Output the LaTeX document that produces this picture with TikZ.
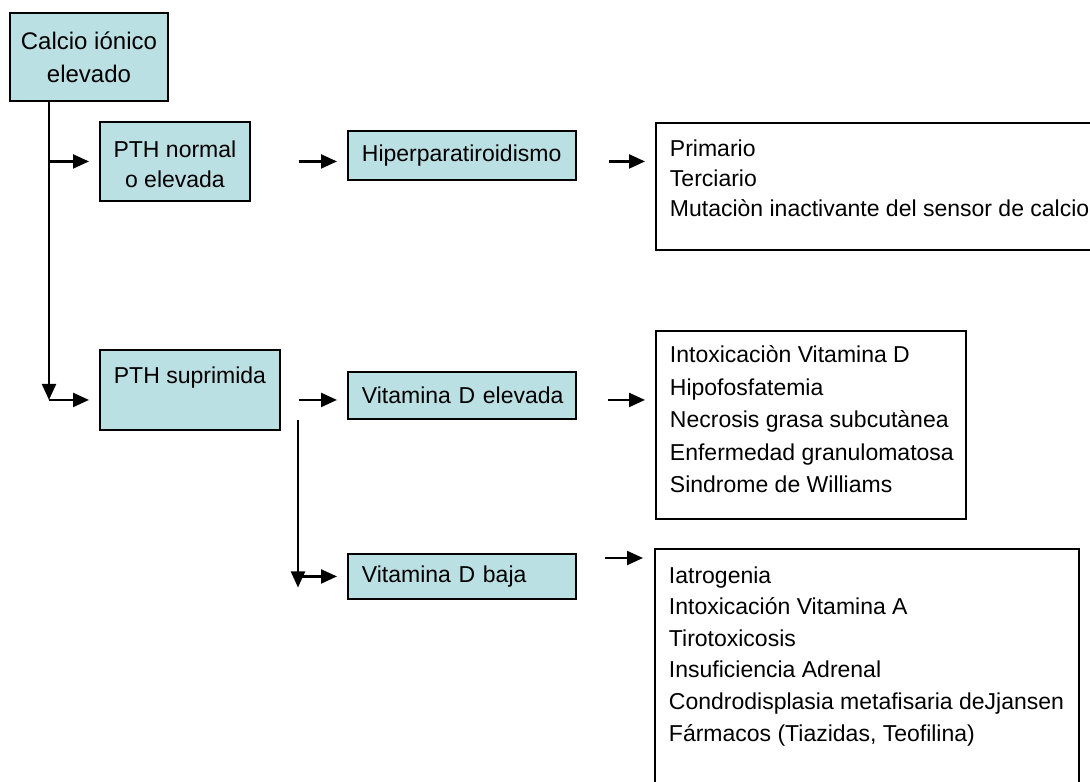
\documentclass[tikz,border=0pt]{standalone}
\usepackage{fontspec}
\setmainfont{Liberation Sans}
\usetikzlibrary{arrows.meta,calc}
\definecolor{boxfill}{RGB}{187,224,227}
\begin{document}
\begin{tikzpicture}[x=1pt,y=-1pt,
  bluebox/.style={draw=black, line width=1.9pt, fill=boxfill, inner sep=0pt, anchor=north west,
    font=\fontsize{23}{30}\selectfont},
  listbox/.style={draw=black, line width=1.9pt, fill=white, anchor=north west, inner xsep=14pt, inner ysep=0pt},
  arr/.style={line width=2.2pt, -{Triangle[length=16pt,width=14pt]}}
]
\useasboundingbox (0,0) rectangle (1090,782);
\clip (0,0) rectangle (1090,782);
\fill[white] (0,0) rectangle (1090,782);

% blue boxes
\node[bluebox, minimum width=158pt, minimum height=88pt, align=center,
      font=\fontsize{24}{33}\selectfont] (calcio) at (9,12) {Calcio iónico\\elevado};
\node[bluebox, minimum width=150pt, minimum height=79pt, align=center] (pthn) at (99,121) {\rule{0pt}{23pt}PTH normal\\o elevada};
\node[bluebox, minimum width=180pt, minimum height=80pt, align=center] (supr) at (99,349) {PTH suprimida\\\mbox{}};
\node[bluebox, minimum width=228pt, minimum height=49pt, text width=200pt, align=left] (hiper) at (347,130) {\mbox{Hiperparatiroidismo}};
\node[bluebox, minimum width=228pt, minimum height=47pt, text width=200pt, align=left] (vde) at (347,371) {\mbox{Vitamina D elevada}};
\node[bluebox, minimum width=228pt, minimum height=45pt, text width=200pt, align=left] (vdb) at (347,553) {\mbox{Vitamina D baja}};

% list boxes
\node[listbox] (prim) at (655,122) {\parbox[c][127pt][t]{427pt}{\fontsize{23}{30}\selectfont\vspace*{13pt}%
  \strut\mbox{Primario}\\
  \strut\mbox{Terciario}\\
  \strut\mbox{Mutaciòn inactivante del sensor de calcio}}};
\node[listbox] (intox) at (655,330) {\parbox[c][188pt][t]{282pt}{\fontsize{23}{32.5}\selectfont\vspace*{9pt}%
  \strut\mbox{Intoxicaciòn Vitamina D}\\
  \strut\mbox{Hipofosfatemia}\\
  \strut\mbox{Necrosis grasa subcutànea}\\
  \strut\mbox{Enfermedad granulomatosa}\\
  \strut\mbox{Sindrome de Williams}}};
\node[listbox] (last) at (654,548) {\parbox[c][262pt][t]{396pt}{\fontsize{23}{31.6}\selectfont\vspace*{12pt}%
  \strut\mbox{Iatrogenia}\\
  \strut\mbox{Intoxicación Vitamina A}\\
  \strut\mbox{Tirotoxicosis}\\
  \strut\mbox{Insuficiencia Adrenal}\\
  \strut\mbox{Condrodisplasia metafisaria deJjansen}\\
  \strut\mbox{Fármacos (Tiazidas, Teofilina)}}};

% main trunk
\coordinate (t0) at ($(calcio.south west)+(40,0)$);
\coordinate (t1) at ($(supr.west)+(-50,10)$);
\draw[arr] (t0) -- (t1);
\draw[arr, shorten >=10pt] (t0 |- pthn.west) -- (pthn.west);
\draw[arr, shorten >=10pt] (t1) -- (t1 -| supr.west);

% upper row
\draw[arr, shorten <=48pt, shorten >=10pt] (pthn.east) -- (pthn.east -| hiper.west);
\draw[arr, shorten <=32pt, shorten >=10pt] (pthn.east -| hiper.east) -- (pthn.east -| prim.west);

% middle row
\draw[arr, shorten <=18pt, shorten >=10pt] (t1 -| supr.east) -- (t1 -| vde.west);
\draw[arr, shorten <=31pt, shorten >=10pt] (t1 -| vde.east) -- (t1 -| intox.west);

% second trunk
\coordinate (u0) at ($(vde.south west)+(-49,0)$);
\coordinate (u1) at ($(vdb.west)+(-49,11)$);
\draw[arr] (u0) -- (u1);
\draw[arr, shorten >=10pt] (u0 |- vdb.west) -- (vdb.west);
\draw[arr] ($(last.north west)+(-49,10)$) -- ($(last.north west)+(-11,10)$);
\end{tikzpicture}
\end{document}
